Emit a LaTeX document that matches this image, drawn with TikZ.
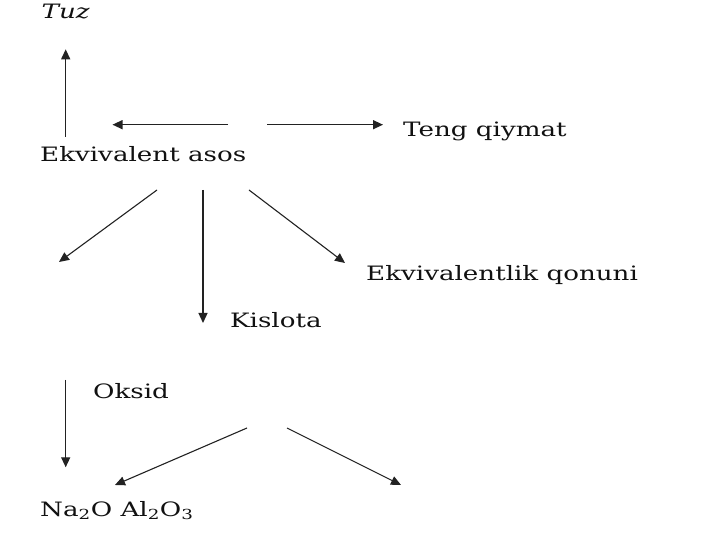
\documentclass[tikz,border=0pt]{standalone}
\usepackage{fontspec}
\setmainfont{DejaVu Serif}[FakeStretch=1.32]
\usetikzlibrary{arrows.meta}
\definecolor{txt}{HTML}{111111}
\definecolor{arr}{HTML}{222222}
\begin{document}
\begin{tikzpicture}[x=1pt,y=1pt,
  lbl/.style={anchor=base west,inner sep=0pt,text=txt,font=\fontsize{19.8}{23}\selectfont},
  arw/.style={draw=arr,line width=1.3pt,-{Triangle[length=10pt,width=9pt]}},
  arwthin/.style={draw=arr,line width=1.1pt,-{Triangle[length=10pt,width=9pt]}}]
\useasboundingbox[fill=white] (0,0) rectangle (720,540);
% labels
\node[lbl] (tuz)  at (41.5,521.7) {\itshape Tuz};
\node[lbl] (asos) at (40,378.3) {Ekvivalent asos};
\node[lbl] (teng) at (403,403.3) {Teng qiymat};
\node[lbl] (qon)  at (366,259.3) {Ekvivalentlik qonuni};
\node[lbl] (kis)  at (230,212.7) {Kislota};
\node[lbl] (oks)  at (93,141) {Oksid};
\node[lbl] (na)   at (40,23.3) {Na\textsubscript{2}O Al\textsubscript{2}O\textsubscript{3}};
% connector ends
\coordinate (s1) at (65.7,403.3);  \coordinate (e1) at (65.7,490.7);
\coordinate (s2) at (228,415.3);   \coordinate (e2) at (112.5,415.3);
\coordinate (s3) at (267,415.3);   \coordinate (e3) at (383,415.3);
\coordinate (s4) at (157,350);     \coordinate (e4) at (59,278);
\coordinate (s5) at (203,350);     \coordinate (e5) at (203,217);
\coordinate (s6) at (249,350);     \coordinate (e6) at (345,277);
\coordinate (s7) at (65.7,160);    \coordinate (e7) at (65.7,72.7);
\coordinate (s8) at (247,112);     \coordinate (e8) at (115,55);
\coordinate (s9) at (287,112);     \coordinate (e9) at (401,55);
% connectors
\draw[arw] (s1) -- (e1);
\draw[arw] (s2) -- (e2);
\draw[arw] (s3) -- (e3);
\draw[arwthin] (s4) -- (e4);
\draw[arw] (s5) -- (e5);
\draw[arwthin] (s6) -- (e6);
\draw[arw] (s7) -- (e7);
\draw[arwthin] (s8) -- (e8);
\draw[arwthin] (s9) -- (e9);
\end{tikzpicture}
\end{document}
